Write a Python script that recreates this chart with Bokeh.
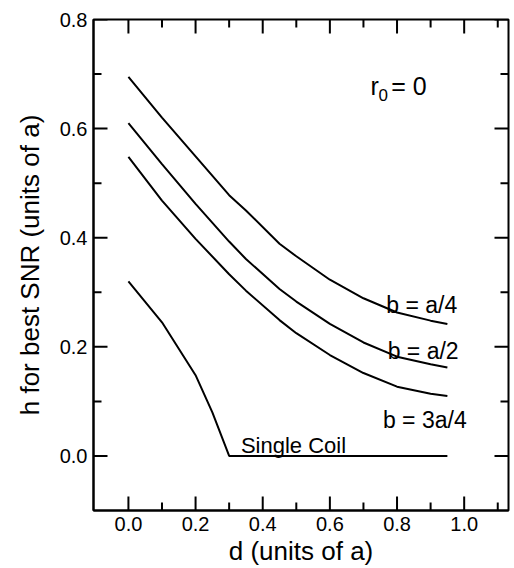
from bokeh.plotting import figure
from bokeh.models import (Range1d, LinearAxis, FixedTicker, NumeralTickFormatter, Label)
from bokeh.embed import file_html
from bokeh.resources import INLINE

# ---- data ----
d_coupled = [0.0, 0.1, 0.2, 0.3, 0.35, 0.45, 0.5, 0.6, 0.7, 0.8, 0.9, 0.95]
h_b_quarter = [0.695, 0.620, 0.549, 0.478, 0.450, 0.389, 0.366, 0.323, 0.289, 0.263, 0.248, 0.242]
h_b_half = [0.610, 0.535, 0.462, 0.393, 0.361, 0.306, 0.283, 0.242, 0.208, 0.182, 0.168, 0.162]
h_b_three_quarter = [0.548, 0.468, 0.398, 0.333, 0.303, 0.249, 0.225, 0.185, 0.152, 0.127, 0.114, 0.110]

d_single = [0.0, 0.1, 0.2, 0.25, 0.3, 0.4, 0.5, 0.6, 0.7, 0.8, 0.9, 0.95]
h_single = [0.320, 0.245, 0.148, 0.080, 0.0, 0.0, 0.0, 0.0, 0.0, 0.0, 0.0, 0.0]

x_major_ticks = [0.0, 0.2, 0.4, 0.6, 0.8, 1.0]
x_minor_ticks = [0.1, 0.3, 0.5, 0.7, 0.9, 1.1]
y_major_ticks = [0.0, 0.2, 0.4, 0.6, 0.8]
y_minor_ticks = [0.1, 0.3, 0.5, 0.7]

x_label = "d (units of a)"
y_label = "h for best SNR (units of a)"

FONT = "Liberation Sans"
X0, X1 = -0.104, 1.132
Y0, Y1 = -0.1, 0.8
FRAME_W, FRAME_H = 415.0, 491.0
px_x = (X1 - X0) / FRAME_W   # data units per pixel
px_y = (Y1 - Y0) / FRAME_H

p = figure(width=514, height=568, output_backend="svg", toolbar_location=None,
           x_range=Range1d(X0, X1), y_range=Range1d(Y0, Y1),
           x_axis_type=None, y_axis_type=None)
p.min_border_left = 93
p.min_border_right = 6
p.min_border_top = 19
p.min_border_bottom = 58
p.outline_line_color = "black"
p.outline_line_width = 2
p.xgrid.visible = False
p.ygrid.visible = False
p.background_fill_color = "white"
p.border_fill_color = "white"

def style_axis(ax):
    ax.axis_line_color = "black"
    ax.axis_line_width = 2
    ax.major_tick_line_color = None
    ax.minor_tick_line_color = None
    ax.major_tick_in = 0
    ax.major_tick_out = 0
    ax.minor_tick_in = 0
    ax.minor_tick_out = 0
    ax.formatter = NumeralTickFormatter(format="0.0")
    ax.major_label_text_font = FONT
    ax.major_label_text_font_size = "20px"
    ax.major_label_text_color = "black"
    ax.major_label_standoff = 6
    ax.axis_label_text_font = FONT
    ax.axis_label_text_font_size = "26px"
    ax.axis_label_text_font_style = "normal"
    ax.axis_label_text_color = "black"

bottom = LinearAxis(ticker=FixedTicker(ticks=x_major_ticks), axis_label=x_label)
style_axis(bottom)
bottom.axis_label_standoff = 2
p.add_layout(bottom, "below")

left = LinearAxis(ticker=FixedTicker(ticks=y_major_ticks), axis_label=y_label)
style_axis(left)
left.axis_label_standoff = 12
p.add_layout(left, "left")

# inward ticks on all four sides
def ticks_x(vals, length_px):
    L = length_px * px_y
    for v in vals:
        p.line([v, v], [Y0, Y0 + L], line_color="black", line_width=2)
        p.line([v, v], [Y1, Y1 - L], line_color="black", line_width=2)

def ticks_y(vals, length_px):
    L = length_px * px_x
    for v in vals:
        p.line([X0, X0 + L], [v, v], line_color="black", line_width=2)
        p.line([X1, X1 - L], [v, v], line_color="black", line_width=2)

ticks_x(x_major_ticks, 14)
ticks_x(x_minor_ticks, 8)
ticks_y(y_major_ticks, 14)
ticks_y(y_minor_ticks, 8)

for ys in (h_b_quarter, h_b_half, h_b_three_quarter):
    p.line(d_coupled, ys, line_color="black", line_width=2)
p.line(d_single, h_single, line_color="black", line_width=2)

def add_label(x, y, text, size):
    p.add_layout(Label(x=x, y=y, text=text, text_font=FONT, text_font_size=size,
                       text_color="black", text_baseline="alphabetic", text_align="left"))

add_label(0.721, 0.679, "r", "25px")
add_label(0.745, 0.662, "0", "17px")
add_label(0.783, 0.679, "= 0", "25px")
add_label(0.768, 0.277, "b = a/4", "23px")
add_label(0.772, 0.193, "b = a/2", "23px")
add_label(0.758, 0.066, "b = 3a/4", "23px")
add_label(0.335, 0.020, "Single Coil", "22px")

open("out.html", "w").write(file_html(p, INLINE))
